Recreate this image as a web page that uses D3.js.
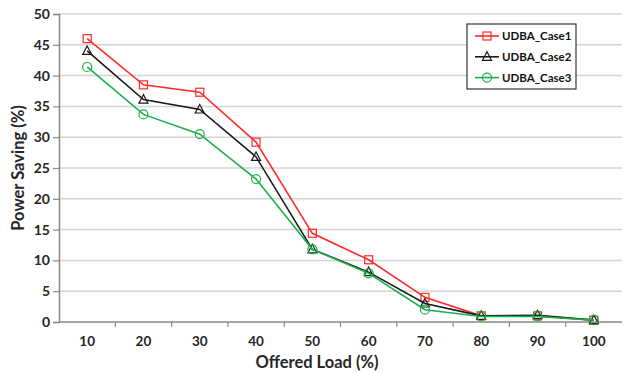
<!DOCTYPE html>
<html>
<head>
<meta charset="utf-8">
<script src="https://cdn.jsdelivr.net/npm/d3@7"></script>
<style>
body { margin:0; background:#fff; }
text { font-family: Lato, "Open Sans", sans-serif; font-weight:bold; }
</style>
</head>
<body>
<svg></svg>
<script>
var loads = [10,20,30,40,50,60,70,80,90,100];
var case1 = [46.0,38.5,37.3,29.2,14.4,10.1,4.0,1.0,1.0,0.3];
var case2 = [44.0,36.1,34.5,26.8,11.8,8.1,3.0,1.0,1.1,0.3];
var case3 = [41.4,33.7,30.5,23.2,11.8,7.9,2.0,0.9,0.9,0.3];
var yTicks = [0,5,10,15,20,25,30,35,40,45,50];
var names = ["UDBA_Case1","UDBA_Case2","UDBA_Case3"];

var series = [
  {name:names[0], values:case1, color:"#ff2a2a", shape:"square"},
  {name:names[1], values:case2, color:"#1a1a1a", shape:"triangle"},
  {name:names[2], values:case3, color:"#19b04a", shape:"circle"}
];

var screen = {width:624, height:373};
var margins = {top:14, bottom:51, left:59, right:2};
var width = screen.width - margins.left - margins.right;
var height = screen.height - margins.top - margins.bottom;

var svg = d3.select("svg")
            .attr("width",screen.width)
            .attr("height",screen.height);

var xScale = d3.scaleBand()
               .domain(loads)
               .range([0,width]);
var yScale = d3.scaleLinear()
               .domain([0,50])
               .range([height,0]);

var plot = svg.append("g")
              .attr("transform","translate("+margins.left+","+margins.top+")");

// gridlines
plot.selectAll(".grid")
    .data(yTicks.slice(1))
    .enter()
    .append("line")
    .attr("x1",0)
    .attr("x2",width)
    .attr("y1",function(d){return yScale(d)})
    .attr("y2",function(d){return yScale(d)})
    .attr("stroke","#d4d4d4")
    .attr("stroke-width",1.5);

// y axis
var yAxis = d3.axisLeft(yScale).tickValues(yTicks).tickSize(6).tickPadding(3);
var yg = plot.append("g").call(yAxis);
yg.select(".domain").attr("stroke","#888").attr("stroke-width",1.5);
yg.selectAll(".tick line").attr("stroke","#888").attr("stroke-width",1.2);
yg.selectAll("text").attr("font-size",14).attr("fill","#262626");

// x axis: ticks between categories
var xg = plot.append("g").attr("transform","translate(0,"+height+")");
xg.append("line").attr("x1",0).attr("x2",width)
  .attr("stroke","#888").attr("stroke-width",1.5);
xg.selectAll(".xt")
  .data(loads.slice(1))
  .enter()
  .append("line")
  .attr("x1",function(d){return xScale(d)})
  .attr("x2",function(d){return xScale(d)})
  .attr("y1",0).attr("y2",5)
  .attr("stroke","#888").attr("stroke-width",1.2);
xg.selectAll(".xl")
  .data(loads)
  .enter()
  .append("text")
  .attr("x",function(d){return xScale(d)+xScale.bandwidth()/2})
  .attr("y",24)
  .attr("text-anchor","middle")
  .attr("font-size",13.5)
  .attr("fill","#262626")
  .text(function(d){return d});

var cx = function(i){return xScale(loads[i])+xScale.bandwidth()/2};

var line = d3.line()
             .x(function(d,i){return cx(i)})
             .y(function(d){return yScale(d)});

var drawMarker = function(g, shape, color)
{
  if (shape=="square")
    g.append("rect").attr("x",-4).attr("y",-4).attr("width",8).attr("height",8)
     .attr("fill","none").attr("stroke",color).attr("stroke-width",1.2);
  else if (shape=="triangle")
    g.append("path").attr("d","M0,-5L4.5,3.5L-4.5,3.5Z")
     .attr("fill","none").attr("stroke",color).attr("stroke-width",1.2);
  else
    g.append("circle").attr("r",4.5)
     .attr("fill","none").attr("stroke",color).attr("stroke-width",1.2);
}

series.forEach(function(s)
{
  plot.append("path")
      .datum(s.values)
      .attr("d",line)
      .attr("fill","none")
      .attr("stroke",s.color)
      .attr("stroke-width",1.6);
  plot.selectAll(".m"+s.shape)
      .data(s.values)
      .enter()
      .append("g")
      .attr("transform",function(d,i){return "translate("+cx(i)+","+yScale(d)+")"})
      .each(function(){drawMarker(d3.select(this), s.shape, s.color)});
});

// axis titles
svg.append("text")
   .attr("x",317).attr("y",368)
   .attr("text-anchor","middle")
   .attr("font-size",16.5)
   .attr("fill","#262626")
   .text("Offered Load (%)");
svg.append("text")
   .attr("transform","translate(24,168) rotate(-90)")
   .attr("text-anchor","middle")
   .attr("font-size",16.5)
   .attr("fill","#262626")
   .text("Power Saving (%)");

// legend
var legend = svg.append("g").attr("transform","translate(467,24)");
legend.append("rect")
      .attr("width",109).attr("height",65)
      .attr("fill","#fff").attr("stroke","#333").attr("stroke-width",1.2);
var legendLines = legend.selectAll(".ll")
      .data(series)
      .enter()
      .append("g")
      .attr("transform",function(d,i){return "translate(0,"+(12+i*20.8)+")"});
legendLines.append("line")
      .attr("x1",8).attr("x2",32)
      .attr("stroke",function(d){return d.color})
      .attr("stroke-width",1.6);
legendLines.append("g")
      .attr("transform","translate(20,0)")
      .each(function(d){drawMarker(d3.select(this), d.shape, d.color)});
legendLines.append("text")
      .attr("x",35).attr("y",4)
      .attr("font-size",11.5)
      .attr("fill","#111")
      .text(function(d){return d.name});
</script>
</body>
</html>
